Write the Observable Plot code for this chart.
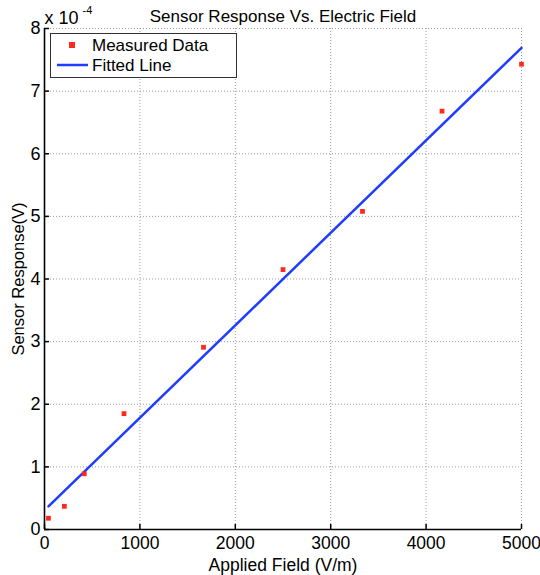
<!DOCTYPE html>
<html>
<head>
<meta charset="utf-8">
<script src="https://cdn.jsdelivr.net/npm/d3@7"></script>
<script src="https://cdn.jsdelivr.net/npm/@observablehq/plot@0.6"></script>
<style>
  html, body { margin: 0; padding: 0; background: white; }
  #wrap { position: relative; width: 540px; height: 575px; }
  #legend { position: absolute; left: 50px; top: 33px; }
</style>
</head>
<body>
<div id="wrap"></div>
<script>
// Measured data (Applied Field in V/m, Sensor Response in V)
const field = [41.7, 208.3, 416.7, 833.3, 1666.7, 2500, 3333.3, 4166.7, 5000];
const response = [0.18e-4, 0.37e-4, 0.89e-4, 1.85e-4, 2.91e-4, 4.15e-4, 5.08e-4, 6.68e-4, 7.43e-4];
// Fitted line end points
const fitField = [41.7, 5000];
const fitResponse = [0.37e-4, 7.69e-4];
// Ticks
const xTicks = [0, 1000, 2000, 3000, 4000, 5000];
const yTicks = [0, 1e-4, 2e-4, 3e-4, 4e-4, 5e-4, 6e-4, 7e-4, 8e-4];
const yTickLabels = ["0", "1", "2", "3", "4", "5", "6", "7", "8"];

const measured = field.map((x, i) => ({x, y: response[i]}));
const fitted = fitField.map((x, i) => ({x, y: fitResponse[i]}));

const FONT = "'Liberation Sans', Arial, sans-serif";
const RED = "#ff2a1f";
const BLUE = "#1f3cff";

const chart = Plot.plot({
  width: 540,
  height: 575,
  marginLeft: 44,
  marginRight: 19,
  marginTop: 28,
  marginBottom: 46,
  style: {fontFamily: FONT, fontSize: "18px", color: "#000", background: "white", overflow: "visible"},
  x: {domain: [0, 5000]},
  y: {domain: [0, 8e-4]},
  marks: [
    Plot.gridX(xTicks.slice(1), {stroke: "#9a9a9a", strokeOpacity: 1, strokeDasharray: "1,2"}),
    Plot.gridY(yTicks.slice(1), {stroke: "#9a9a9a", strokeOpacity: 1, strokeDasharray: "1,2"}),
    Plot.line(fitted, {x: "x", y: "y", stroke: BLUE, strokeWidth: 2.5}),
    Plot.dot(measured, {x: "x", y: "y", symbol: "square", r: 2.7, fill: RED}),
    Plot.ruleX([0], {stroke: "#000", strokeWidth: 1.6}),
    Plot.ruleY([0], {stroke: "#000", strokeWidth: 1.6}),
    Plot.axisX(xTicks, {tickSize: -5, tickPadding: 12, strokeWidth: 1.5, tickFormat: d3.format("d"), fontSize: 17.5, label: null}),
    Plot.axisX({label: "Applied Field (V/m)", labelAnchor: "center", labelOffset: 41, labelArrow: "none", fontSize: 17.5, ticks: [], tickSize: 0}),
    Plot.axisY(yTicks, {tickSize: -5, tickPadding: 9, strokeWidth: 1.5, tickFormat: (d) => yTickLabels[yTicks.indexOf(d)], fontSize: 18, label: null}),
    Plot.axisY({label: "Sensor Response(V)", labelAnchor: "center", labelOffset: 32, labelArrow: "none", fontSize: 16.5, ticks: [], tickSize: 0}),
    Plot.text(["Sensor Response Vs. Electric Field"], {frameAnchor: "top", dy: -7, fontSize: 17, lineAnchor: "bottom"}),
    Plot.text(["x 10"], {frameAnchor: "top-left", dx: 0, dy: -5, textAnchor: "start", lineAnchor: "bottom", fontSize: 18}),
    Plot.text(["-4"], {frameAnchor: "top-left", dx: 38, dy: -15, textAnchor: "start", lineAnchor: "bottom", fontSize: 11})
  ]
});

const wrap = document.getElementById("wrap");
wrap.appendChild(chart);

// Legend
const ns = "http://www.w3.org/2000/svg";
const leg = document.createElementNS(ns, "svg");
leg.setAttribute("id", "legend");
leg.setAttribute("width", 188);
leg.setAttribute("height", 46);
leg.innerHTML = `
  <rect x="0.5" y="0.5" width="186" height="44" fill="white" stroke="#333" stroke-width="1"/>
  <rect x="19" y="9" width="6" height="6" fill="${RED}"/>
  <text x="42" y="18" font-family="${FONT.replace(/'/g, "")}" font-size="17">Measured Data</text>
  <line x1="7" y1="32" x2="38" y2="32" stroke="${BLUE}" stroke-width="2.5"/>
  <text x="42" y="38" font-family="${FONT.replace(/'/g, "")}" font-size="17">Fitted Line</text>
`;
wrap.appendChild(leg);
</script>
</body>
</html>
